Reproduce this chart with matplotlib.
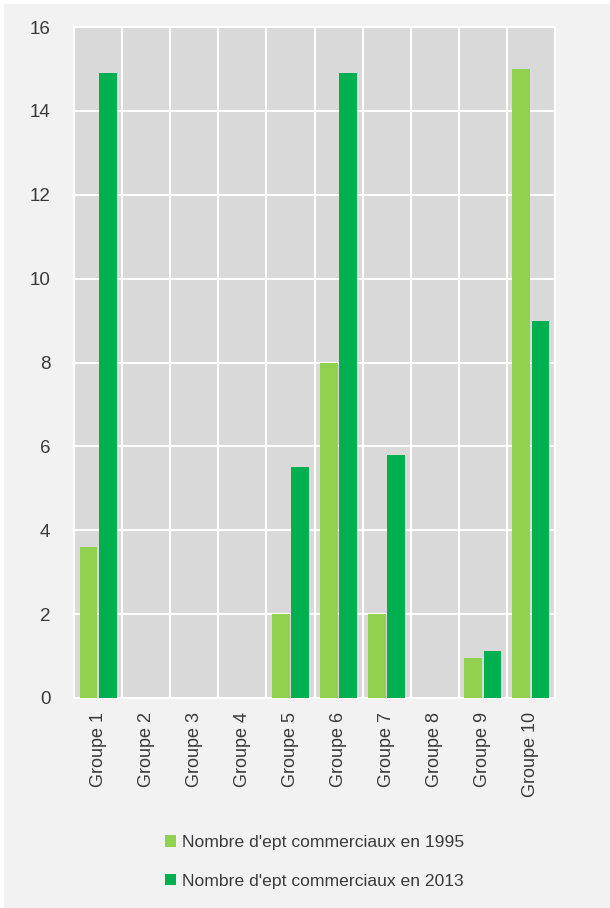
import matplotlib
matplotlib.use("Agg")
import matplotlib.pyplot as plt
from matplotlib.patches import Rectangle
import numpy as np

# données
groupes = ["Groupe 1", "Groupe 2", "Groupe 3", "Groupe 4", "Groupe 5",
           "Groupe 6", "Groupe 7", "Groupe 8", "Groupe 9", "Groupe 10"]
ept_1995 = [3.6, 0, 0, 0, 2, 8, 2, 0, 0.95, 15]
ept_2013 = [14.9, 0, 0, 0, 5.5, 14.9, 5.8, 0, 1.12, 9]
label_1995 = "Nombre d'ept commerciaux en 1995"
label_2013 = "Nombre d'ept commerciaux en 2013"

plt.rcParams['font.family'] = ['Liberation Sans', 'DejaVu Sans']

fig = plt.figure(figsize=(6.1, 9.08), dpi=100, facecolor="white")
# panneau gris clair de fond
fig.patches.append(Rectangle((4 / 610, 0), 1, 904 / 908, transform=fig.transFigure,
                             facecolor="#f2f2f2", edgecolor="none", zorder=-10))

ax = fig.add_axes([74 / 610, 210 / 908, 481 / 610, 671 / 908])
ax.set_facecolor("#d9d9d9")

x = np.arange(len(groupes))
w = 0.37
ax.bar(x - 0.2, ept_1995, width=w, color="#92d050", label=label_1995, zorder=3)
ax.bar(x + 0.2, ept_2013, width=w, color="#00b050", label=label_2013, zorder=3)

ax.set_xlim(-0.5, len(groupes) - 0.5)
ax.set_ylim(0, 16)
ax.set_yticks(np.arange(0, 17, 2))
ax.set_xticks(x)
ax.set_xticklabels(groupes, rotation=90, fontsize=13, color="#3a3a3a")
ax.tick_params(axis="y", length=0, pad=17, labelsize=13.5, labelcolor="#3a3a3a")
ax.tick_params(axis="x", length=0, pad=10)

# grille blanche : horizontale tous les 2, verticale entre les groupes
ax.set_xticks(np.arange(-0.5, len(groupes), 1), minor=True)
ax.grid(True, axis="y", which="major", color="white", linewidth=1.5)
ax.grid(True, axis="x", which="minor", color="white", linewidth=1.5)
ax.tick_params(axis="x", which="minor", length=0)
ax.set_axisbelow(True)
for s in ax.spines.values():
    s.set_color("white")
    s.set_linewidth(1.5)

fig.legend(loc="center left", bbox_to_anchor=(165 / 610, 1 - 862 / 908),
           frameon=False, fontsize=12.6, labelcolor="#3a3a3a",
           handlelength=0.6, handleheight=0.6, handletextpad=0.4,
           labelspacing=1.35, borderpad=0, borderaxespad=0)

fig.savefig("out.png", dpi=100, facecolor=fig.get_facecolor())
